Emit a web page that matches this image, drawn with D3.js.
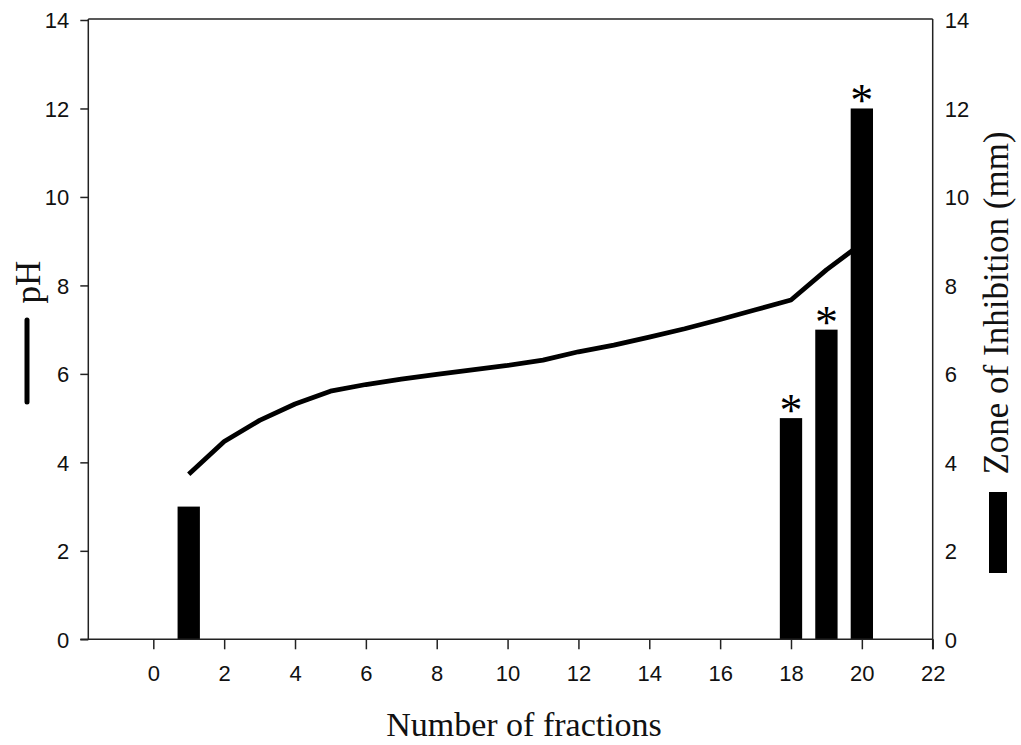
<!DOCTYPE html>
<html>
<head>
<meta charset="utf-8">
<script src="https://cdn.jsdelivr.net/npm/d3@7"></script>
<style>
  html, body { margin: 0; padding: 0; background: #fff; }
  svg { display: block; }
</style>
</head>
<body>
<svg id="chart" width="1021" height="745"></svg>
<script>
// ---- data ----
const fractions = [1,2,3,4,5,6,7,8,9,10,11,12,13,14,15,16,17,18,19,20];
const pHValues = [3.73,4.47,4.95,5.32,5.61,5.76,5.88,5.99,6.09,6.19,6.31,6.50,6.65,6.83,7.02,7.23,7.45,7.67,8.35,8.95];
const barFractions = [1, 18, 19, 20];
const zoneValues = [3, 5, 7, 12];
const significant = [false, true, true, true];
const xTicks = [0,2,4,6,8,10,12,14,16,18,20,22];
const yTicks = [0,2,4,6,8,10,12,14];
const xTitle = "Number of fractions";
const yLeftTitle = "pH";
const yRightTitle = "Zone of Inhibition (mm)";

// ---- layout ----
const svg = d3.select("#chart");
const L = 88.3, R = 932.7, T = 20, B = 639.3;
const x = d3.scaleLinear().domain([-1.835, 22]).range([L, R]);
const yL = d3.scaleLinear().domain([0, 14]).range([B, T]);
const yR = d3.scaleLinear().domain([0, 14]).range([B, T]);
const axisColor = "#222";
const sans = "'Liberation Sans', Arial, sans-serif";
const serif = "'Liberation Serif', 'Times New Roman', serif";

// frame top line
svg.append("line").attr("x1", L).attr("x2", R).attr("y1", T - 1).attr("y2", T - 1)
  .attr("stroke", axisColor).attr("stroke-width", 1.5);

// pH line (drawn below bars)
const line = d3.line().x((d, i) => x(fractions[i])).y(d => yL(d));
svg.append("path").datum(pHValues).attr("d", line)
  .attr("fill", "none").attr("stroke", "#000").attr("stroke-width", 4.8)
  .attr("stroke-linejoin", "round").attr("stroke-linecap", "butt");

// bars
const barW = 0.63;
svg.selectAll("rect.bar").data(zoneValues).enter().append("rect")
  .attr("class", "bar")
  .attr("x", (d, i) => x(barFractions[i] - barW / 2))
  .attr("width", x(barW) - x(0))
  .attr("y", d => yR(d))
  .attr("height", d => B - yR(d))
  .attr("fill", "#000");

// asterisks
const starData = zoneValues.map((v, i) => ({v: v, f: barFractions[i], s: significant[i]})).filter(d => d.s);
svg.selectAll("text.star").data(starData).enter().append("text")
  .attr("class", "star")
  .attr("x", d => x(d.f))
  .attr("y", d => yR(d.v) + 8)
  .attr("text-anchor", "middle")
  .attr("font-family", serif).attr("font-size", 46).attr("fill", "#000")
  .text("*");

// left axis
const gL = svg.append("g").attr("transform", `translate(${L},0)`)
  .call(d3.axisLeft(yL).tickValues(yTicks).tickSize(8).tickPadding(11).tickFormat(d3.format("d")));
// right axis
const gR = svg.append("g").attr("transform", `translate(${R},0)`)
  .call(d3.axisRight(yR).tickValues(yTicks).tickSize(0).tickPadding(12).tickFormat(d3.format("d")));
// bottom axis
const gB = svg.append("g").attr("transform", `translate(0,${B})`)
  .call(d3.axisBottom(x).tickValues(xTicks).tickSize(10).tickPadding(16).tickFormat(d3.format("d")));

[gL, gR, gB].forEach(g => {
  g.select(".domain").attr("stroke", axisColor).attr("stroke-width", 1.5);
  g.selectAll(".tick line").attr("stroke", axisColor).attr("stroke-width", 1.5);
  g.selectAll(".tick text").attr("font-family", sans).attr("font-size", 22).attr("fill", "#111");
});
gL.select(".domain").attr("d", `M0,${B}V${T - 1}`);
gR.select(".domain").attr("d", `M0,${B + 10}V${T - 1}`);
gB.select(".domain").attr("d", `M${L - 8},0H${R}`);
gL.selectAll(".tick text").attr("dy", "0.35em");
gR.selectAll(".tick text").attr("dy", "0.35em");

// titles
svg.append("text").attr("x", 524).attr("y", 736)
  .attr("text-anchor", "middle").attr("font-family", serif).attr("font-size", 34).attr("fill", "#111")
  .text(xTitle);

svg.append("text").attr("transform", "translate(40,282) rotate(-90)")
  .attr("text-anchor", "middle").attr("font-family", serif).attr("font-size", 35).attr("fill", "#111")
  .text(yLeftTitle);

svg.append("text").attr("transform", "translate(1008,303) rotate(-90)")
  .attr("text-anchor", "middle").attr("font-family", serif).attr("font-size", 35).attr("fill", "#111")
  .text(yRightTitle);

// legend keys
svg.append("line").attr("x1", 27).attr("x2", 27).attr("y1", 320).attr("y2", 402)
  .attr("stroke", "#000").attr("stroke-width", 5).attr("stroke-linecap", "round");
svg.append("rect").attr("x", 989).attr("y", 492).attr("width", 18).attr("height", 81).attr("fill", "#000");
</script>
</body>
</html>
